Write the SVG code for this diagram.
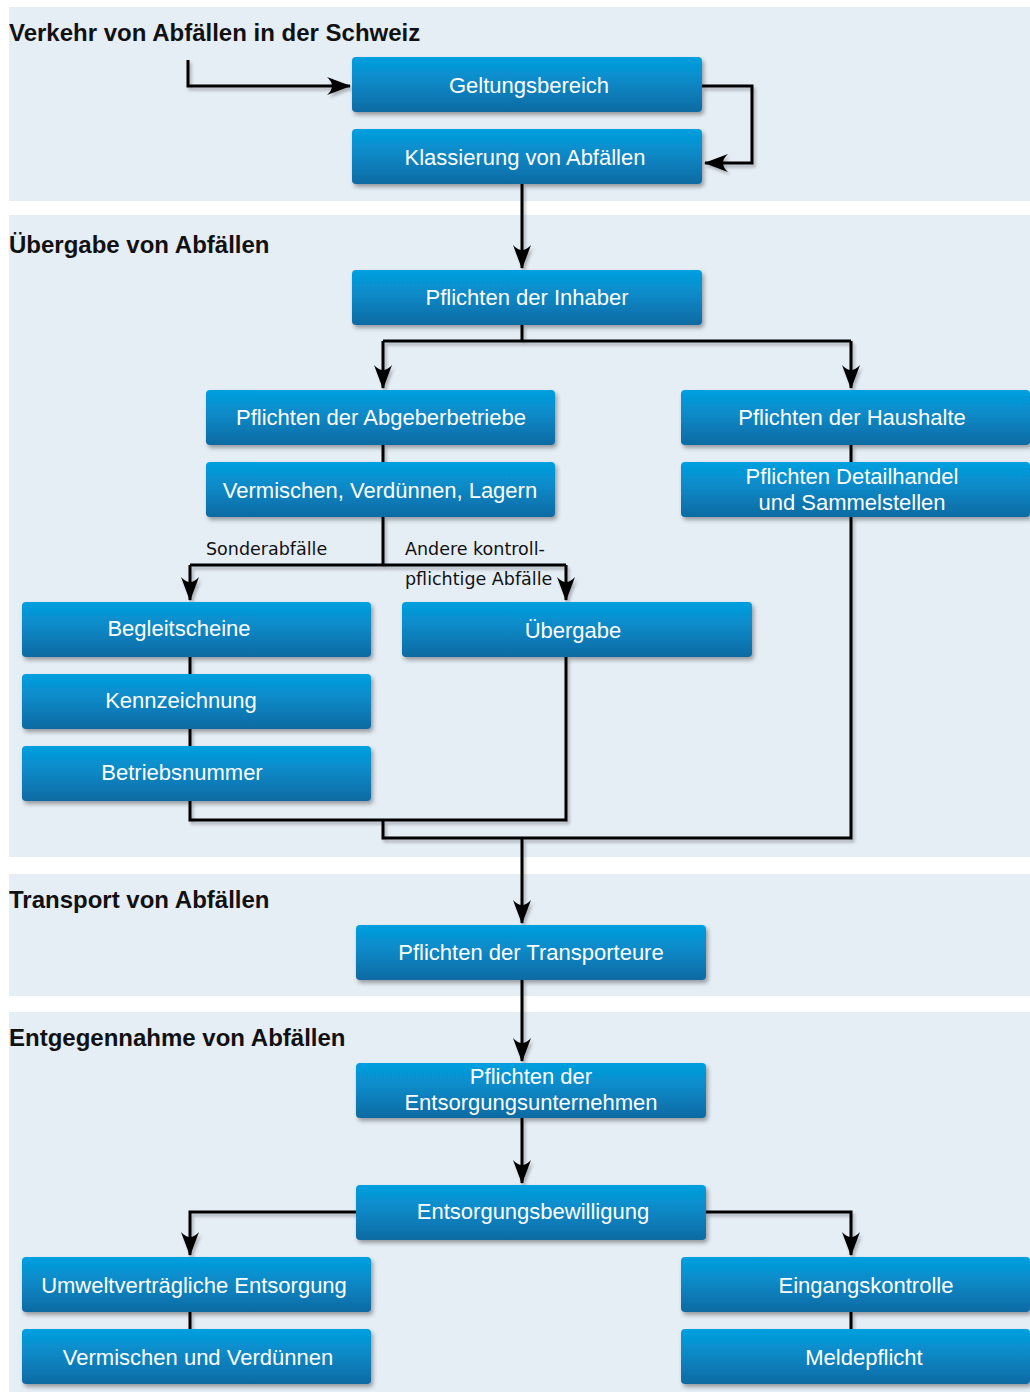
<svg xmlns="http://www.w3.org/2000/svg" width="1030" height="1392" viewBox="0 0 1030 1392">
<style>
.sec{fill:#e5edf5}
.title{font-family:"Liberation Sans",Arial,sans-serif;font-weight:bold;font-size:24px;fill:#111}
.box{fill:url(#g);filter:url(#sh)}
.bt{font-family:"Liberation Sans",Arial,sans-serif;font-size:22px;fill:#fff;text-anchor:middle}
.lbl{font-family:"DejaVu Sans",Verdana,sans-serif;font-size:17.5px;fill:#111}
.ln{fill:none;stroke:#000;stroke-width:3;stroke-linejoin:miter}
</style>
<defs>
<linearGradient id="g" x1="0" y1="0" x2="0" y2="1">
<stop offset="0" stop-color="#05a0e0"/>
<stop offset="0.5" stop-color="#0886c4"/>
<stop offset="1" stop-color="#0a6aa2"/>
</linearGradient>
<filter id="sh" x="-5%" y="-10%" width="115%" height="140%">
<feDropShadow dx="2" dy="3" stdDeviation="2" flood-color="#000" flood-opacity="0.35"/>
</filter>
<filter id="lsh" x="-5%" y="-5%" width="110%" height="110%">
<feDropShadow dx="2" dy="3" stdDeviation="1.5" flood-color="#000" flood-opacity="0.25"/>
</filter>
<marker id="ar" viewBox="0 0 24 18" refX="23" refY="9" markerWidth="24" markerHeight="18" markerUnits="userSpaceOnUse" orient="auto">
<path d="M0,0 Q10,9 0,18 L24,9 Z" fill="#000"/>
</marker>
</defs>

<g id="sections">
<rect class="sec" x="9" y="7" width="1021" height="194"/>
<rect class="sec" x="9" y="215" width="1021" height="642"/>
<rect class="sec" x="9" y="874" width="1021" height="122"/>
<rect class="sec" x="9" y="1012" width="1021" height="380"/>
<text class="title" x="9" y="41">Verkehr von Abfällen in der Schweiz</text>
<text class="title" x="9" y="253">Übergabe von Abfällen</text>
<text class="title" x="9" y="908">Transport von Abfällen</text>
<text class="title" x="9" y="1046">Entgegennahme von Abfällen</text>
</g>

<g id="connectors" filter="url(#lsh)">
<path class="ln" d="M188,60 V86 H350" marker-end="url(#ar)"/>
<path class="ln" d="M702,86 H752 V163 H705" marker-end="url(#ar)"/>
<path class="ln" d="M522,184 V268" marker-end="url(#ar)"/>
<path class="ln" d="M522,325 V341"/>
<path class="ln" d="M383,341 H851"/>
<path class="ln" d="M383,341 V388" marker-end="url(#ar)"/>
<path class="ln" d="M851,341 V388" marker-end="url(#ar)"/>
<path class="ln" d="M383,445 V462"/>
<path class="ln" d="M851,445 V462"/>
<path class="ln" d="M383,517 V565"/>
<path class="ln" d="M190,565 H566"/>
<path class="ln" d="M190,565 V600" marker-end="url(#ar)"/>
<path class="ln" d="M566,565 V600" marker-end="url(#ar)"/>
<path class="ln" d="M190,657 V674"/>
<path class="ln" d="M190,729 V746"/>
<path class="ln" d="M190,801 V820 H566 V657"/>
<path class="ln" d="M383,820 V838 H851 V517"/>
<path class="ln" d="M522,838 V923" marker-end="url(#ar)"/>
<path class="ln" d="M522,980 V1061" marker-end="url(#ar)"/>
<path class="ln" d="M522,1118 V1183" marker-end="url(#ar)"/>
<path class="ln" d="M356,1212 H190 V1255" marker-end="url(#ar)"/>
<path class="ln" d="M706,1212 H851 V1255" marker-end="url(#ar)"/>
<path class="ln" d="M190,1312 V1329"/>
<path class="ln" d="M851,1312 V1329"/>
</g>

<g id="labels">
<text class="lbl" x="206" y="555">Sonderabfälle</text>
<text class="lbl" x="405" y="555">Andere kontroll-</text>
<text class="lbl" x="405" y="585">pflichtige Abfälle</text>
</g>

<g id="n1"><rect class="box" x="352" y="57" width="350" height="55" rx="4"/><text class="bt" x="529" y="93">Geltungsbereich</text></g>
<g id="n2"><rect class="box" x="352" y="129" width="350" height="55" rx="4"/><text class="bt" x="525" y="165">Klassierung von Abfällen</text></g>
<g id="n3"><rect class="box" x="352" y="270" width="350" height="55" rx="4"/><text class="bt" x="527" y="305">Pflichten der Inhaber</text></g>
<g id="n4"><rect class="box" x="206" y="390" width="349" height="55" rx="4"/><text class="bt" x="381" y="425">Pflichten der Abgeberbetriebe</text></g>
<g id="n5"><rect class="box" x="206" y="462" width="349" height="55" rx="4"/><text class="bt" x="380" y="498">Vermischen, Verdünnen, Lagern</text></g>
<g id="n6"><rect class="box" x="681" y="390" width="349" height="55" rx="4"/><text class="bt" x="852" y="425">Pflichten der Haushalte</text></g>
<g id="n7"><rect class="box" x="681" y="462" width="349" height="55" rx="4"/><text class="bt" x="852" y="484">Pflichten Detailhandel</text><text class="bt" x="852" y="510">und Sammelstellen</text></g>
<g id="n8"><rect class="box" x="22" y="602" width="349" height="55" rx="4"/><text class="bt" x="179" y="636">Begleitscheine</text></g>
<g id="n9"><rect class="box" x="402" y="602" width="350" height="55" rx="4"/><text class="bt" x="573" y="638">Übergabe</text></g>
<g id="n10"><rect class="box" x="22" y="674" width="349" height="55" rx="4"/><text class="bt" x="181" y="708">Kennzeichnung</text></g>
<g id="n11"><rect class="box" x="22" y="746" width="349" height="55" rx="4"/><text class="bt" x="182" y="780">Betriebsnummer</text></g>
<g id="n12"><rect class="box" x="356" y="925" width="350" height="55" rx="4"/><text class="bt" x="531" y="960">Pflichten der Transporteure</text></g>
<g id="n13"><rect class="box" x="356" y="1063" width="350" height="55" rx="4"/><text class="bt" x="531" y="1084">Pflichten der</text><text class="bt" x="531" y="1110">Entsorgungsunternehmen</text></g>
<g id="n14"><rect class="box" x="356" y="1185" width="350" height="55" rx="4"/><text class="bt" x="533" y="1219">Entsorgungsbewilligung</text></g>
<g id="n15"><rect class="box" x="22" y="1257" width="349" height="55" rx="4"/><text class="bt" x="194" y="1293">Umweltverträgliche Entsorgung</text></g>
<g id="n16"><rect class="box" x="22" y="1329" width="349" height="55" rx="4"/><text class="bt" x="198" y="1365">Vermischen und Verdünnen</text></g>
<g id="n17"><rect class="box" x="681" y="1257" width="349" height="55" rx="4"/><text class="bt" x="866" y="1293">Eingangskontrolle</text></g>
<g id="n18"><rect class="box" x="681" y="1329" width="349" height="55" rx="4"/><text class="bt" x="864" y="1365">Meldepflicht</text></g>
</svg>
